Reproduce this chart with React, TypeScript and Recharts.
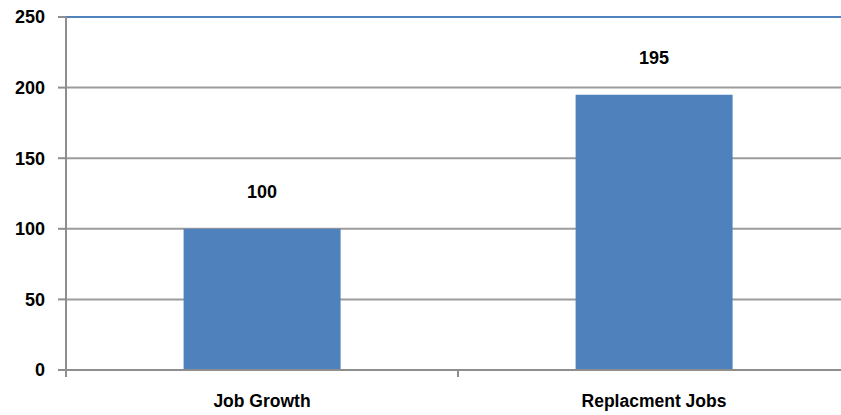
import React from "react";
import { BarChart, Bar, XAxis, YAxis, CartesianGrid, ReferenceLine, LabelList } from "recharts";

const categories = ["Job Growth", "Replacment Jobs"];
const values = [100, 195];
const yTicks = [0, 50, 100, 150, 200, 250];

const data = categories.map((name, i) => ({ name, value: values[i] }));

const FONT = "'Liberation Sans', Arial, sans-serif";
const AXIS_GREY = "#8e8e8e";
const BLUE = "#4f81bd";

const XTick = (props: any) => {
  const { x, y, payload, index, width, visibleTicksCount } = props;
  const half = width / (visibleTicksCount || 2) / 2;
  return (
    <g>
      {index === 0 && (
        <line x1={x - half} x2={x - half} y1={y} y2={y + 7} stroke={AXIS_GREY} strokeWidth={2} />
      )}
      <line x1={x + half} x2={x + half} y1={y} y2={y + 7} stroke={AXIS_GREY} strokeWidth={2} />
      <text x={x} y={y + 37} textAnchor="middle" fontFamily={FONT} fontWeight="bold" fontSize={17.5} fill="#000">
        {payload.value}
      </text>
    </g>
  );
};

export default function App() {
  return (
    <div style={{ position: "fixed", left: 0, top: 0, width: 841, height: 415, overflow: "hidden", background: "#fff" }}>
      <BarChart
        width={850}
        height={415}
        data={data}
        margin={{ top: 17, right: 0, left: 0, bottom: 0 }}
        barCategoryGap="30%"
      >
        <CartesianGrid horizontal vertical={false} stroke="#9c9c9c" strokeWidth={2} />
        <XAxis
          dataKey="name"
          height={45}
          tickLine={false}
          tickSize={0}
          tickMargin={0}
          axisLine={{ stroke: AXIS_GREY, strokeWidth: 2 }}
          tick={<XTick />}
          interval={0}
        />
        <YAxis
          width={66}
          domain={[0, 250]}
          ticks={yTicks}
          interval={0}
          tickSize={8}
          tickMargin={13}
          axisLine={{ stroke: AXIS_GREY, strokeWidth: 2 }}
          tickLine={{ stroke: AXIS_GREY, strokeWidth: 2 }}
          tick={{ fontFamily: FONT, fontWeight: "bold", fontSize: 18, fill: "#000" }}
        />
        <ReferenceLine y={250} stroke={BLUE} strokeWidth={2} />
        <Bar dataKey="value" fill={BLUE} isAnimationActive={false}>
          <LabelList
            dataKey="value"
            position="top"
            offset={31}
            style={{ fontFamily: FONT, fontWeight: "bold", fontSize: 18, fill: "#000" }}
          />
        </Bar>
      </BarChart>
    </div>
  );
}
